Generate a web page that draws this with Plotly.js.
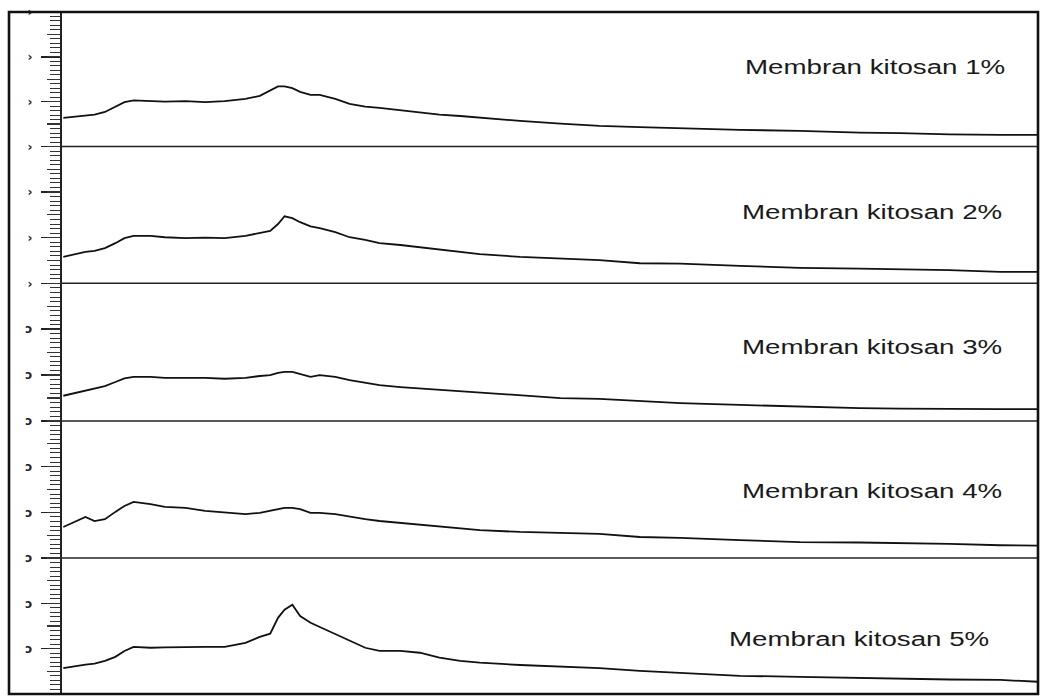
<!DOCTYPE html>
<html><head><meta charset="utf-8">
<script src="https://cdn.plot.ly/plotly-3.0.1.min.js"></script>
<style>
html,body{margin:0;padding:0;background:#fff;}
#chart{width:1043px;height:697px;}
text.annotation-text{transform:scaleX(1.32);transform-box:fill-box;transform-origin:center;}
</style></head><body><div id="chart"></div>
<script>
// 2-theta positions (degrees) shared by all patterns
const twoTheta = [5.1,6.0,6.8,7.5,8.3,9.1,9.8,10.5,11.8,12.9,14.5,16.0,17.5,19.1,20.2,21.0,21.6,22.1,22.7,23.3,24.1,24.8,26.0,27.1,28.3,29.4,31.0,32.5,34.0,35.6,37.1,40.2,43.3,46.3,49.4,52.5,57.1,61.7,66.3,69.4,73.2,77.1,80.0];

// intensities (arbitrary units)
const kitosan1 = [64,66,68,71,77,88,99,103,101,100,101,99,101,106,113,126,134,134,130,122,115,115,106,95,89,86,81,77,71,68,64,57,51,46,43,40,37,35,31,30,27,26,26];
const kitosan2 = [58,64,69,71,77,88,99,104,104,101,99,100,99,104,110,115,130,147,143,134,125,121,112,101,95,88,84,79,73,69,64,58,55,51,44,43,38,34,32,31,29,25,25];
const kitosan3 = [55,61,65,70,76,85,93,96,96,94,94,94,92,94,98,100,105,107,107,102,96,100,96,89,83,78,74,71,68,64,61,55,50,48,44,39,35,31,28,27,26,26,26];
const kitosan4 = [68,79,90,81,85,101,114,123,118,112,110,103,99,96,99,103,107,110,110,107,99,99,96,90,85,81,77,72,68,64,61,57,55,53,46,44,39,35,34,33,31,28,27];
const kitosan5 = [57,62,65,67,73,82,95,104,102,103,104,104,104,113,126,133,168,186,197,172,157,148,133,119,102,95,95,91,80,73,69,64,60,57,51,46,40,38,35,33,32,31,27];

const seriesValues = [kitosan1, kitosan2, kitosan3, kitosan4, kitosan5];
const seriesNames = ["Membran kitosan 1%","Membran kitosan 2%","Membran kitosan 3%","Membran kitosan 4%","Membran kitosan 5%"];
const tickGlyphs = ["›","›","ɔ","ɔ","ɔ"];

// layout geometry (pixels of the 1043x697 picture)
const domains = [[0.8028,1],[0.6022,0.8028],[0.4003,0.6022],[0.1994,0.4003],[0,0.1994]];
const labelPos = [[0.8335,0.9194],[0.8295,0.7082],[0.8295,0.5088],[0.8295,0.2991],[0.8166,0.0821]];

const traces = [];
const layout = {
  width:1043, height:697,
  margin:{l:62,r:5,t:12,b:3},
  paper_bgcolor:'#ffffff', plot_bgcolor:'#ffffff',
  showlegend:false,
  font:{family:'Liberation Sans, Arial, sans-serif', color:'#111'},
  xaxis:{range:[5,80], showticklabels:false, ticks:'', showgrid:false, zeroline:false, showline:false, fixedrange:true},
  annotations:[], shapes:[]
};

seriesValues.forEach((vals,i)=>{
  const n = i+1;
  const yk = n===1 ? 'y' : 'y'+n;
  traces.push({x:twoTheta, y:vals, type:'scatter', mode:'lines', name:seriesNames[i],
    xaxis:'x', yaxis:yk, line:{color:'#111', width:1.8}, hoverinfo:'skip'});
  const tv = i===0 ? [0,100,200,300] : [0,100,200];
  layout[n===1?'yaxis':'yaxis'+n] = {
    domain:domains[i], range:[0,300], anchor:'x',
    tickmode:'array', tickvals:tv, ticktext:tv.map(()=>tickGlyphs[i]),
    ticks:'outside', ticklen:19, tickwidth:1.5, tickcolor:'#222',
    ticklabelstandoff:6,
    tickfont:{family:'DejaVu Sans', size:12, color:'#222', weight:'bold'},
    minor:{dtick:10, ticks:'outside', ticklen:10, tickwidth:1, tickcolor:'#333', showgrid:false},
    showline:true, linewidth:2.2, linecolor:'#222',
    showgrid:false, zeroline:false, fixedrange:true
  };
  // overlay axis carrying the half-step ticks
  const on = 5+n;
  layout['yaxis'+on] = {
    overlaying:yk, range:[0,300], anchor:'x', side:'left',
    tickmode:'linear', tick0:0, dtick:50, ticks:'outside', ticklen:14, tickwidth:1.2, tickcolor:'#333',
    showticklabels:false, showline:false, showgrid:false, zeroline:false, fixedrange:true
  };
  traces.push({x:[], y:[], type:'scatter', mode:'lines', xaxis:'x', yaxis:'y'+on, hoverinfo:'skip', showlegend:false});
  layout.annotations.push({xref:'paper', yref:'paper', x:labelPos[i][0], y:labelPos[i][1],
    xanchor:'center', yanchor:'middle', text:seriesNames[i], showarrow:false,
    font:{family:'Liberation Sans, Arial, sans-serif', size:21, color:'#1a1a1a'}});
  if (i>0) {
    layout.shapes.push({type:'line', xref:'paper', yref:'paper', x0:0, x1:1, y0:domains[i][1], y1:domains[i][1],
      line:{color:'#222', width:1.6}});
  }
});

// outer frame
layout.shapes.push({type:'rect', xref:'paper', yref:'paper', x0:-0.0543, x1:1, y0:0, y1:1,
  line:{color:'#111', width:2.6}, fillcolor:'rgba(0,0,0,0)'});

Plotly.newPlot('chart', traces, layout, {displayModeBar:false, staticPlot:true});
</script></body></html>
